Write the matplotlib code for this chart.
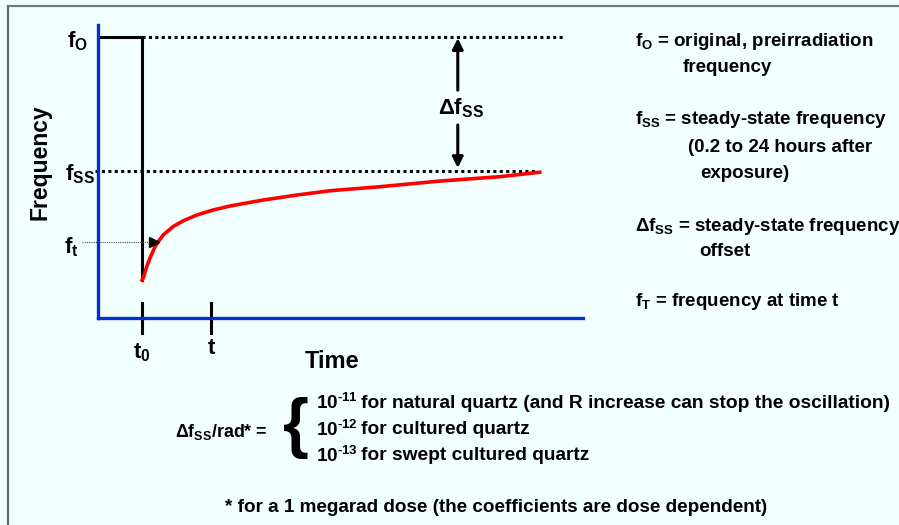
import numpy as np
import matplotlib
matplotlib.use("Agg")
import matplotlib.pyplot as plt
from matplotlib.lines import Line2D

plt.rcParams.update({
    'font.family': ['Liberation Sans', 'DejaVu Sans'],
    'font.weight': 'bold',
    'mathtext.fontset': 'custom',
    'mathtext.rm': 'Liberation Sans:bold',
    'mathtext.it': 'Liberation Sans:bold',
    'mathtext.bf': 'Liberation Sans:bold',
    'mathtext.sf': 'Liberation Sans:bold',
    'mathtext.default': 'rm',
})

# recovery curve after the pulse (time units, frequency units)
curve_t = np.array([1.0, 1.027, 1.104, 1.179, 1.293, 1.367, 1.481, 1.708, 1.935,
                    2.238, 2.608, 2.993, 3.741, 4.512, 5.261, 6.395, 7.755, 9.116, 10.02])
curve_f = np.array([1.352, 1.423, 1.826, 2.135, 2.537, 2.715, 2.96, 3.26, 3.46,
                    3.665, 3.843, 3.986, 4.199, 4.377, 4.530, 4.673, 4.875, 5.03, 5.19])

f_orig = 10.0       # original frequency
f_ss = 5.24         # steady-state frequency
f_t_level = 2.7     # frequency at time t
t0 = 1.0
t_mark = 2.56

right_lines = [
    ("$f_O$ = original, preirradiation", 0),
    ("frequency", 48),
    ("$f_{SS}$ = steady-state frequency", 0),
    ("(0.2 to 24 hours after", 53),
    ("exposure)", 65),
    ("$\\Delta f_{SS}$ = steady-state frequency", 0),
    ("offset", 64),
    ("$f_T$ = frequency at time t", 0),
]
right_y = [41, 67, 120, 147, 173, 227, 252, 301]

coef_exp = ["-11", "-12", "-13"]
coef_text = [
    "for natural quartz (and R increase can stop the oscillation)",
    "for cultured quartz",
    "for swept cultured quartz",
]
coef_y = [403, 430, 456]

W, H = 899, 525
bg = '#F2FFFF'
fig = plt.figure(figsize=(W / 100, H / 100), dpi=100, facecolor=bg)


def fx(px):
    return px / W


def fy(py):
    return 1 - py / H


# frame around the slide
fig.add_artist(Line2D([fx(8), fx(8)], [-0.1, fy(5.5)], color='#5f6b69', lw=1.6))
fig.add_artist(Line2D([fx(8), 1.1], [fy(5.5), fy(5.5)], color='#6f7b79', lw=1.6))

ax = fig.add_axes([fx(98), fy(318), fx(583) - fx(98), fy(25) - fy(318)])
ax.set_facecolor('none')
ax.set_xlim(0, 11)
ax.set_ylim(0, 10.43)
for s in ['top', 'right']:
    ax.spines[s].set_visible(False)
for s in ['left', 'bottom']:
    ax.spines[s].set_color('#0033CC')
    ax.spines[s].set_linewidth(2.4)
ax.set_xticks([])
ax.set_yticks([])

# original frequency and drop at t0
ax.plot([0, t0, t0], [f_orig, f_orig, curve_f[0]], color='black', lw=2.2,
        solid_joinstyle='miter', clip_on=False)
# dotted reference lines
ax.plot([t0, 10.6], [f_orig, f_orig], color='black', lw=2.2,
        linestyle=(0, (1, 1.1)), clip_on=False)
ax.plot([-0.07, 9.9], [f_ss, f_ss], color='black', lw=2.2,
        linestyle=(0, (1, 1.1)), clip_on=False)
# recovery curve
ax.plot(curve_t, curve_f, color='#FF0000', lw=2.6, clip_on=False,
        solid_joinstyle='round')

# ticks at t0 and t
for tt in [t0, t_mark]:
    ax.plot([tt, tt], [0.53, -0.53], color='black', lw=2.2, clip_on=False)

# f_t pointer
ax.plot([-0.36, 1.2], [f_t_level, f_t_level], color='#555555', lw=0.8,
        linestyle=(0, (1, 1)), clip_on=False)
ax.plot([1.28], [f_t_level], marker='>', color='black', markersize=7, clip_on=False)

# delta f_ss arrows
ax.annotate('', xy=(8.16, 9.96), xytext=(8.16, 8.11),
            arrowprops=dict(arrowstyle='-|>', color='black', lw=2.2, mutation_scale=16,
                            shrinkA=0, shrinkB=0))
ax.annotate('', xy=(8.16, 5.34), xytext=(8.16, 6.87),
            arrowprops=dict(arrowstyle='-|>', color='black', lw=2.2, mutation_scale=16,
                            shrinkA=0, shrinkB=0))
fig.text(fx(461), fy(108), "$\\Delta f_{SS}$", fontsize=16, ha='center', va='center')

# axis labels
fig.text(fx(88), fy(41), "$f_O$", fontsize=16, ha='right', va='center')
fig.text(fx(95), fy(174), "$f_{SS}$", fontsize=16, ha='right', va='center')
fig.text(fx(64), fy(247), "$f_t$", fontsize=16, ha='left', va='center')
fig.text(fx(142), fy(353), "$t_0$", fontsize=16, ha='center', va='center')
fig.text(fx(211), fy(349), "t", fontsize=16, ha='center', va='center')
fig.text(fx(332), fy(362), "Time", fontsize=17, ha='center', va='center')
fig.text(fx(40), fy(162), "Frequency", fontsize=16.5, ha='center', va='center', rotation=90)

# definitions on the right
for (txt, indent), yy in zip(right_lines, right_y):
    fig.text(fx(635 + indent), fy(yy), txt, fontsize=13.5, ha='left', va='center')

# coefficients
fig.text(fx(175), fy(432), "$\\Delta f_{SS}$/rad* =", fontsize=12.9, ha='left', va='center')
fig.text(fx(296), fy(428), "{", fontsize=48, ha='center', va='center')
for ex, txt, yy in zip(coef_exp, coef_text, coef_y):
    fig.text(fx(316), fy(yy), "10$^{\\text{" + ex + "}}$", fontsize=13.6,
             ha='left', va='center')
    fig.text(fx(361), fy(yy), txt, fontsize=13.8, ha='left', va='center')

fig.text(fx(496), fy(507), "* for a 1 megarad dose (the coefficients are dose dependent)",
         fontsize=13.6, ha='center', va='center')

fig.savefig("out.png", dpi=100, facecolor=bg)
